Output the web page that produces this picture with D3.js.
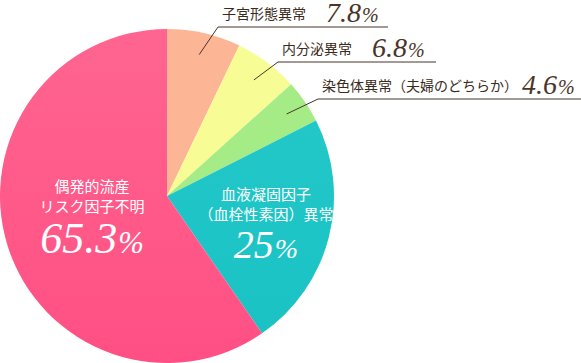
<!DOCTYPE html>
<html>
<head>
<meta charset="utf-8">
<script src="https://cdn.jsdelivr.net/npm/d3@7"></script>
<style>
  body { margin: 0; background: #fff; }
  text { font-family: "Noto Sans CJK JP", "Noto Sans", sans-serif; }
  .num { font-family: "Liberation Serif", "DejaVu Serif", serif; font-style: italic; }
</style>
</head>
<body>
<script>

// data
var labels = ["子宮形態異常", "内分泌異常", "染色体異常（夫婦のどちらか）", "血液凝固因子|（血栓性素因）異常", "偶発的流産|リスク因子不明"]
var values = [7.8, 6.8, 4.6, 25, 65.3]
var valueText = ["7.8", "6.8", "4.6", "25", "65.3"]
var colors = ["#fdb695", "#f8fc95", "#a6ec86", "#20c7c7", "#ff5a89"]

var width = 581
var height = 363
var cx = 167, cy = 196, r = 167

var svg = d3.select('body').append('svg')
	.attr('width', width)
	.attr('height', height)

var defs = svg.append("defs")
var grads = [
	{id: "gPink", top: "#ff6590", bottom: "#ff4f84"},
	{id: "gTeal", top: "#22c8c8", bottom: "#1bc2c4"}
]
grads.forEach(function(g){
	var lg = defs.append("linearGradient").attr("id", g.id)
		.attr("x1", 0).attr("y1", 0).attr("x2", 0).attr("y2", 1)
	lg.append("stop").attr("offset", "0%").attr("stop-color", g.top)
	lg.append("stop").attr("offset", "100%").attr("stop-color", g.bottom)
})

var pie = d3.pie().sort(null).value(function(d){ return d })
var arcs = pie(values)
var arc = d3.arc().innerRadius(0).outerRadius(r)
var labelArc = d3.arc().innerRadius(145).outerRadius(145)

var g = svg.append("g").attr("transform", "translate(" + cx + "," + cy + ")")

g.selectAll("path")
	.data(arcs)
	.enter().append("path")
	.attr("d", arc)
	.attr("fill", function(d, i){
		if (i == 4) return "url(#gPink)"
		if (i == 3) return "url(#gTeal)"
		return colors[i]
	})

// outside labels (small slices)
var rows = [
	{y: 27, lx: 222, vx: 326, x2: 388},
	{y: 62, lx: 282, vx: 372, x2: 436},
	{y: 99, lx: 322, vx: 522, x2: 581}
]
var lineColor = "#4b3427"

rows.forEach(function(row, i){
	var c = labelArc.centroid(arcs[i])
	var px = cx + c[0], py = cy + c[1]
	var kx = row.lx - 4
	svg.append("polyline")
		.attr("points", [[px, py], [kx, row.y], [row.x2, row.y]].map(function(p){ return p.join(",") }).join(" "))
		.attr("fill", "none")
		.attr("stroke", lineColor)
		.attr("stroke-width", 1)

	svg.append("text")
		.attr("x", row.lx)
		.attr("y", row.y - 8)
		.attr("font-size", 14)
		.attr("fill", "#3a2a20")
		.text(labels[i])

	var t = svg.append("text")
		.attr("class", "num")
		.attr("x", row.vx)
		.attr("y", row.y - 5)
		.attr("fill", "#4b3427")
	t.append("tspan").attr("font-size", 28).text(valueText[i])
	t.append("tspan").attr("font-size", 20).attr("dx", 1).text("%")
})

// inside labels
var inner = [
	{i: 4, x: 92, y: 192, ny: 253, fs: 44},
	{i: 3, x: 266, y: 200, ny: 258, fs: 40}
]
inner.forEach(function(d){
	var lines = labels[d.i].split("|")
	lines.forEach(function(s, k){
		svg.append("text")
			.attr("x", d.x)
			.attr("y", d.y + k * 20)
			.attr("text-anchor", "middle")
			.attr("font-size", 15)
			.attr("fill", "#fff")
			.text(s)
	})
	var t = svg.append("text")
		.attr("class", "num")
		.attr("x", d.x)
		.attr("y", d.ny)
		.attr("text-anchor", "middle")
		.attr("fill", "#fff")
	t.append("tspan").attr("font-size", d.fs).text(valueText[d.i])
	t.append("tspan").attr("font-size", d.fs * 0.7).attr("dx", 1).text("%")
})

</script>
</body>
</html>
